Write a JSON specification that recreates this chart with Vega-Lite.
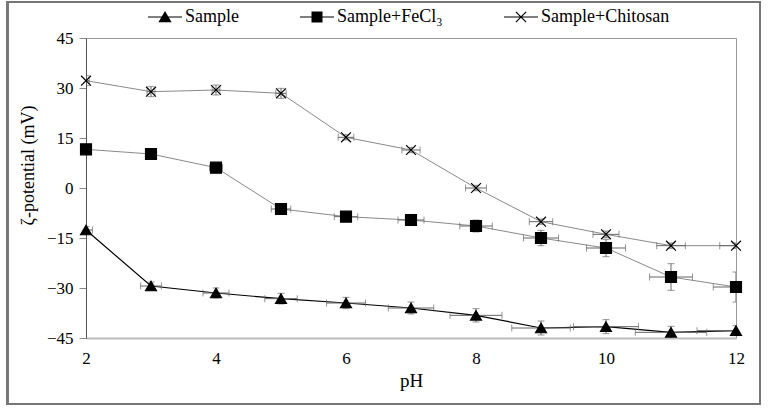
{
  "$schema": "https://vega.github.io/schema/vega-lite/v6.json",
  "autosize": {"type": "none"},
  "width": 650,
  "height": 300,
  "padding": {"left": 86, "top": 38, "right": 32, "bottom": 74},
  "background": "#ffffff",
  "data": {"values": [
    {"pH": 2, "series": "Sample", "z": -12.6, "xlo": 1.9, "xhi": 2.1, "ylo": -13.6, "yhi": -11.6},
    {"pH": 3, "series": "Sample", "z": -29.4, "xlo": 2.84, "xhi": 3.16, "ylo": -30.6, "yhi": -28.2},
    {"pH": 4, "series": "Sample", "z": -31.5, "xlo": 3.8, "xhi": 4.2, "ylo": -33.0, "yhi": -30.0},
    {"pH": 5, "series": "Sample", "z": -33.2, "xlo": 4.75, "xhi": 5.25, "ylo": -34.8, "yhi": -31.6},
    {"pH": 6, "series": "Sample", "z": -34.5, "xlo": 5.7, "xhi": 6.3, "ylo": -36.2, "yhi": -32.8},
    {"pH": 7, "series": "Sample", "z": -36.0, "xlo": 6.65, "xhi": 7.35, "ylo": -37.8, "yhi": -34.2},
    {"pH": 8, "series": "Sample", "z": -38.2, "xlo": 7.6, "xhi": 8.4, "ylo": -40.2, "yhi": -36.2},
    {"pH": 9, "series": "Sample", "z": -42.0, "xlo": 8.55, "xhi": 9.45, "ylo": -44.1, "yhi": -39.9},
    {"pH": 10, "series": "Sample", "z": -41.6, "xlo": 9.5, "xhi": 10.5, "ylo": -43.7, "yhi": -39.5},
    {"pH": 11, "series": "Sample", "z": -43.3, "xlo": 10.45, "xhi": 11.55, "ylo": -45.1, "yhi": -41.5},
    {"pH": 12, "series": "Sample", "z": -42.8, "xlo": 11.4, "xhi": 12.6, "ylo": -44.3, "yhi": -41.3},
    {"pH": 2, "series": "Sample+FeCl₃", "z": 11.6, "xlo": 1.95, "xhi": 2.05, "ylo": 10.6, "yhi": 12.6},
    {"pH": 3, "series": "Sample+FeCl₃", "z": 10.2, "xlo": 2.95, "xhi": 3.05, "ylo": 9.0, "yhi": 11.4},
    {"pH": 4, "series": "Sample+FeCl₃", "z": 6.1, "xlo": 3.9, "xhi": 4.1, "ylo": 5.3, "yhi": 6.9},
    {"pH": 5, "series": "Sample+FeCl₃", "z": -6.3, "xlo": 4.85, "xhi": 5.15, "ylo": -7.1, "yhi": -5.5},
    {"pH": 6, "series": "Sample+FeCl₃", "z": -8.6, "xlo": 5.82, "xhi": 6.18, "ylo": -9.4, "yhi": -7.8},
    {"pH": 7, "series": "Sample+FeCl₃", "z": -9.6, "xlo": 6.8, "xhi": 7.2, "ylo": -10.6, "yhi": -8.6},
    {"pH": 8, "series": "Sample+FeCl₃", "z": -11.4, "xlo": 7.75, "xhi": 8.25, "ylo": -13.2, "yhi": -9.6},
    {"pH": 9, "series": "Sample+FeCl₃", "z": -15.0, "xlo": 8.73, "xhi": 9.27, "ylo": -17.3, "yhi": -12.7},
    {"pH": 10, "series": "Sample+FeCl₃", "z": -18.0, "xlo": 9.7, "xhi": 10.3, "ylo": -20.6, "yhi": -15.4},
    {"pH": 11, "series": "Sample+FeCl₃", "z": -26.7, "xlo": 10.67, "xhi": 11.33, "ylo": -30.7, "yhi": -22.7},
    {"pH": 12, "series": "Sample+FeCl₃", "z": -29.7, "xlo": 11.65, "xhi": 12.35, "ylo": -34.2, "yhi": -25.2},
    {"pH": 2, "series": "Sample+Chitosan", "z": 32.2, "xlo": 1.95, "xhi": 2.05, "ylo": 30.7, "yhi": 33.7},
    {"pH": 3, "series": "Sample+Chitosan", "z": 28.9, "xlo": 2.94, "xhi": 3.06, "ylo": 27.4, "yhi": 30.4},
    {"pH": 4, "series": "Sample+Chitosan", "z": 29.4, "xlo": 3.94, "xhi": 4.06, "ylo": 27.9, "yhi": 30.9},
    {"pH": 5, "series": "Sample+Chitosan", "z": 28.4, "xlo": 4.92, "xhi": 5.08, "ylo": 26.9, "yhi": 29.9},
    {"pH": 6, "series": "Sample+Chitosan", "z": 15.2, "xlo": 5.88, "xhi": 6.12, "ylo": 14.4, "yhi": 16.0},
    {"pH": 7, "series": "Sample+Chitosan", "z": 11.4, "xlo": 6.86, "xhi": 7.14, "ylo": 10.6, "yhi": 12.2},
    {"pH": 8, "series": "Sample+Chitosan", "z": 0.0, "xlo": 7.84, "xhi": 8.16, "ylo": -0.8, "yhi": 0.8},
    {"pH": 9, "series": "Sample+Chitosan", "z": -10.1, "xlo": 8.82, "xhi": 9.18, "ylo": -10.9, "yhi": -9.3},
    {"pH": 10, "series": "Sample+Chitosan", "z": -13.9, "xlo": 9.8, "xhi": 10.2, "ylo": -14.9, "yhi": -12.9},
    {"pH": 11, "series": "Sample+Chitosan", "z": -17.3, "xlo": 10.78, "xhi": 11.22, "ylo": -18.1, "yhi": -16.5},
    {"pH": 12, "series": "Sample+Chitosan", "z": -17.3, "xlo": 11.75, "xhi": 12.25, "ylo": -18.1, "yhi": -16.5}
  ]},
  "layer": [
    {
      "mark": {"type": "rect", "fill": null, "stroke": "#777777", "strokeWidth": 1.5, "clip": false},
      "encoding": {
        "x": {"datum": 0.79, "type": "quantitative", "scale": {"domain": [2, 12], "nice": false, "zero": false}, "title": "pH",
              "axis": {"values": [2, 4, 6, 8, 10, 12], "format": "d", "labelFlush": false, "grid": false, "ticks": false, "domainColor": "#bbbbbb", "domainWidth": 2, "labelFont": "Liberation Serif", "labelFontSize": 17, "labelColor": "#000000", "labelPadding": 12, "titleFont": "Liberation Serif", "titleFontSize": 19, "titleFontWeight": "normal", "titleColor": "#000000", "titlePadding": 5}},
        "x2": {"datum": 12.37},
        "y": {"datum": 55.8, "type": "quantitative", "scale": {"domain": [-45, 45], "nice": false, "zero": false}, "title": "ζ-potential (mV)",
              "axis": {"values": [-45, -30, -15, 0, 15, 30, 45], "format": "d", "labelFlush": false, "grid": false, "domainColor": "#555555", "domainWidth": 1, "tickColor": "#888888", "tickSize": 7, "labelFont": "Liberation Serif", "labelFontSize": 17, "labelColor": "#000000", "labelPadding": 6, "titleFont": "Liberation Serif", "titleFontSize": 18, "titleFontWeight": "normal", "titleColor": "#000000", "titleX": -58, "titleY": 127, "titleBaseline": "middle"}},
        "y2": {"datum": -64.9}
      }
    },
    {
      "transform": [{"filter": "datum.series !== 'Sample'"}],
      "mark": {"type": "line", "strokeWidth": 1, "color": "#8a8a8a"},
      "encoding": {
        "x": {"field": "pH", "type": "quantitative", "title": "pH", "scale": {"domain": [2, 12], "nice": false, "zero": false}},
        "y": {"field": "z", "type": "quantitative", "title": "ζ-potential (mV)", "scale": {"domain": [-45, 45], "nice": false, "zero": false}},
        "detail": {"field": "series"}
      }
    },
    {
      "transform": [{"filter": "datum.series === 'Sample'"}],
      "mark": {"type": "line", "strokeWidth": 1.2, "color": "#000000"},
      "encoding": {
        "x": {"field": "pH", "type": "quantitative", "title": "pH", "scale": {"domain": [2, 12], "nice": false, "zero": false}},
        "y": {"field": "z", "type": "quantitative", "title": "ζ-potential (mV)", "scale": {"domain": [-45, 45], "nice": false, "zero": false}}
      }
    },
    {
      "mark": {"type": "errorbar", "clip": true, "ticks": {"size": 7, "color": "#666666"}, "rule": {"color": "#666666", "strokeWidth": 1}},
      "encoding": {
        "x": {"field": "xlo", "type": "quantitative", "title": "pH", "scale": {"domain": [2, 12], "nice": false, "zero": false}},
        "x2": {"field": "xhi"},
        "y": {"field": "z", "type": "quantitative", "title": "ζ-potential (mV)", "scale": {"domain": [-45, 45], "nice": false, "zero": false}}
      }
    },
    {
      "mark": {"type": "errorbar", "clip": true, "ticks": {"size": 7, "color": "#666666"}, "rule": {"color": "#666666", "strokeWidth": 1}},
      "encoding": {
        "y": {"field": "ylo", "type": "quantitative", "title": "ζ-potential (mV)", "scale": {"domain": [-45, 45], "nice": false, "zero": false}},
        "y2": {"field": "yhi"},
        "x": {"field": "pH", "type": "quantitative", "title": "pH", "scale": {"domain": [2, 12], "nice": false, "zero": false}}
      }
    },
    {
      "mark": {"type": "point", "filled": true, "color": "#000000", "stroke": "#000000", "strokeWidth": 1.2, "opacity": 1, "size": 120},
      "encoding": {
        "x": {"field": "pH", "type": "quantitative", "title": "pH", "scale": {"domain": [2, 12], "nice": false, "zero": false}},
        "y": {"field": "z", "type": "quantitative", "title": "ζ-potential (mV)", "scale": {"domain": [-45, 45], "nice": false, "zero": false}},
        "shape": {
          "field": "series", "type": "nominal",
          "scale": {"domain": ["Sample", "Sample+FeCl₃", "Sample+Chitosan"], "range": ["triangle-up", "square", "M-0.9,-0.9L0.9,0.9M-0.9,0.9L0.9,-0.9"]},
          "legend": null
        }
      }
    },
    {
      "transform": [{"filter": "datum.pH > 100"}],
      "mark": {"type": "point", "filled": true, "color": "#000000", "opacity": 1, "size": 121},
      "encoding": {
        "x": {"field": "pH", "type": "quantitative", "title": "pH", "scale": {"domain": [2, 12], "nice": false, "zero": false}},
        "y": {"field": "z", "type": "quantitative", "title": "ζ-potential (mV)", "scale": {"domain": [-45, 45], "nice": false, "zero": false}},
        "shape": {
          "field": "series", "type": "nominal",
          "scale": {"domain": ["Sample", "Sample+FeCl₃", "Sample+Chitosan"], "range": [
            "M-3.1,-0.09H3.1V0.09H-3.1ZM0,-1.1L1.2,0.95H-1.2Z",
            "M-3.1,-0.09H3.1V0.09H-3.1ZM-1,-1H1V1H-1Z",
            "M-3.1,-0.09H3.1V0.09H-3.1ZM-1,-0.85L-0.85,-1L1,0.85L0.85,1ZM-1,0.85L0.85,-1L1,-0.85L-0.85,1Z"
          ]},
          "legend": {
            "orient": "none", "legendX": 70, "legendY": -30, "direction": "horizontal",
            "title": null, "padding": 0, "columnPadding": 57,
            "labelFont": "Liberation Serif", "labelFontSize": 18, "labelColor": "#000000", "labelOffset": 11,
            "symbolSize": 121, "symbolFillColor": "#000000", "symbolOpacity": 1
          }
        }
      }
    }
  ],
  "resolve": {"scale": {"shape": "independent"}, "legend": {"shape": "independent"}},
  "config": {
    "view": {"stroke": "#999999", "strokeWidth": 1}
  }
}
